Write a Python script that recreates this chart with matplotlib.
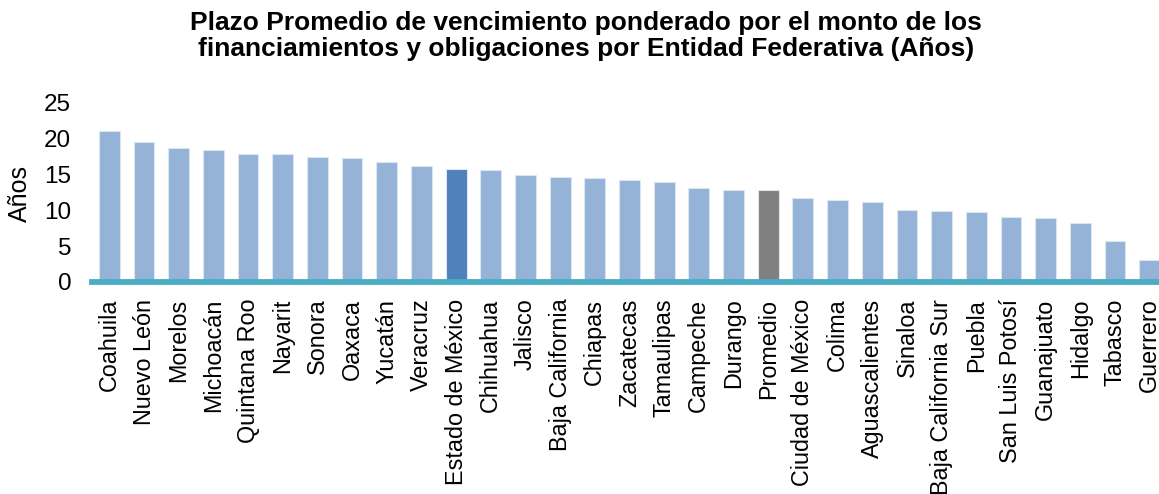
import matplotlib
matplotlib.use("Agg")
import matplotlib.pyplot as plt

plt.rcParams['font.family'] = ['Liberation Sans', 'DejaVu Sans']

categorias = ["Coahuila", "Nuevo León", "Morelos", "Michoacán", "Quintana Roo", "Nayarit",
              "Sonora", "Oaxaca", "Yucatán", "Veracruz", "Estado de México", "Chihuahua",
              "Jalisco", "Baja California", "Chiapas", "Zacatecas", "Tamaulipas", "Campeche",
              "Durango", "Promedio", "Ciudad de México", "Colima", "Aguascalientes", "Sinaloa",
              "Baja California Sur", "Puebla", "San Luis Potosí", "Guanajuato", "Hidalgo",
              "Tabasco", "Guerrero"]
valores = [21.1, 19.5, 18.7, 18.4, 17.9, 17.9, 17.4, 17.3, 16.8, 16.2, 15.8, 15.6,
           15.0, 14.6, 14.5, 14.3, 14.0, 13.1, 12.85, 12.85, 11.8, 11.45, 11.2, 10.0,
           9.9, 9.8, 9.1, 8.9, 8.3, 5.7, 3.1]
yticks = [0, 5, 10, 15, 20, 25]

W, H = 1159, 494
fig = plt.figure(figsize=(W / 100, H / 100), dpi=100)
left, right, bottom, top = 92, 1167, 282, 103
ax = fig.add_axes([left / W, 1 - bottom / H, (right - left) / W, (bottom - top) / H])

colors = []
for c in categorias:
    if c == "Estado de México":
        colors.append("#4F81BD")
    elif c == "Promedio":
        colors.append("#808080")
    else:
        colors.append("#95B3D7")

x = list(range(len(categorias)))
ax.bar(x, valores, width=0.6, color=colors, edgecolor="#DCE6F2", linewidth=0.8, zorder=2)
ax.set_xlim(-0.5, len(categorias) - 0.5)
ax.set_ylim(0, 25)
ax.set_yticks(yticks)
ax.set_yticklabels([str(v) for v in yticks], fontsize=17.5)
ax.set_xticks(x)
ax.set_xticklabels(categorias, rotation=90, fontsize=16.8)
ax.tick_params(axis='both', length=0)
ax.tick_params(axis='x', pad=12)
ax.tick_params(axis='y', pad=15)
for s in ["top", "right", "left"]:
    ax.spines[s].set_visible(False)
ax.spines["bottom"].set_color("#4BACC6")
ax.spines["bottom"].set_linewidth(4.2)
ax.spines["bottom"].set_zorder(3)

fig.text(20 / W, 1 - 193 / H, "Años", rotation=90, ha="center", va="center", fontsize=18)

fig.text(586 / W, 1 - 11 / H, "Plazo Promedio de vencimiento ponderado por el monto de los\n"
         "financiamientos y obligaciones por Entidad Federativa (Años)",
         ha="center", va="top", fontsize=19, fontweight="bold", linespacing=1.08)

fig.savefig("out.png", dpi=100)
